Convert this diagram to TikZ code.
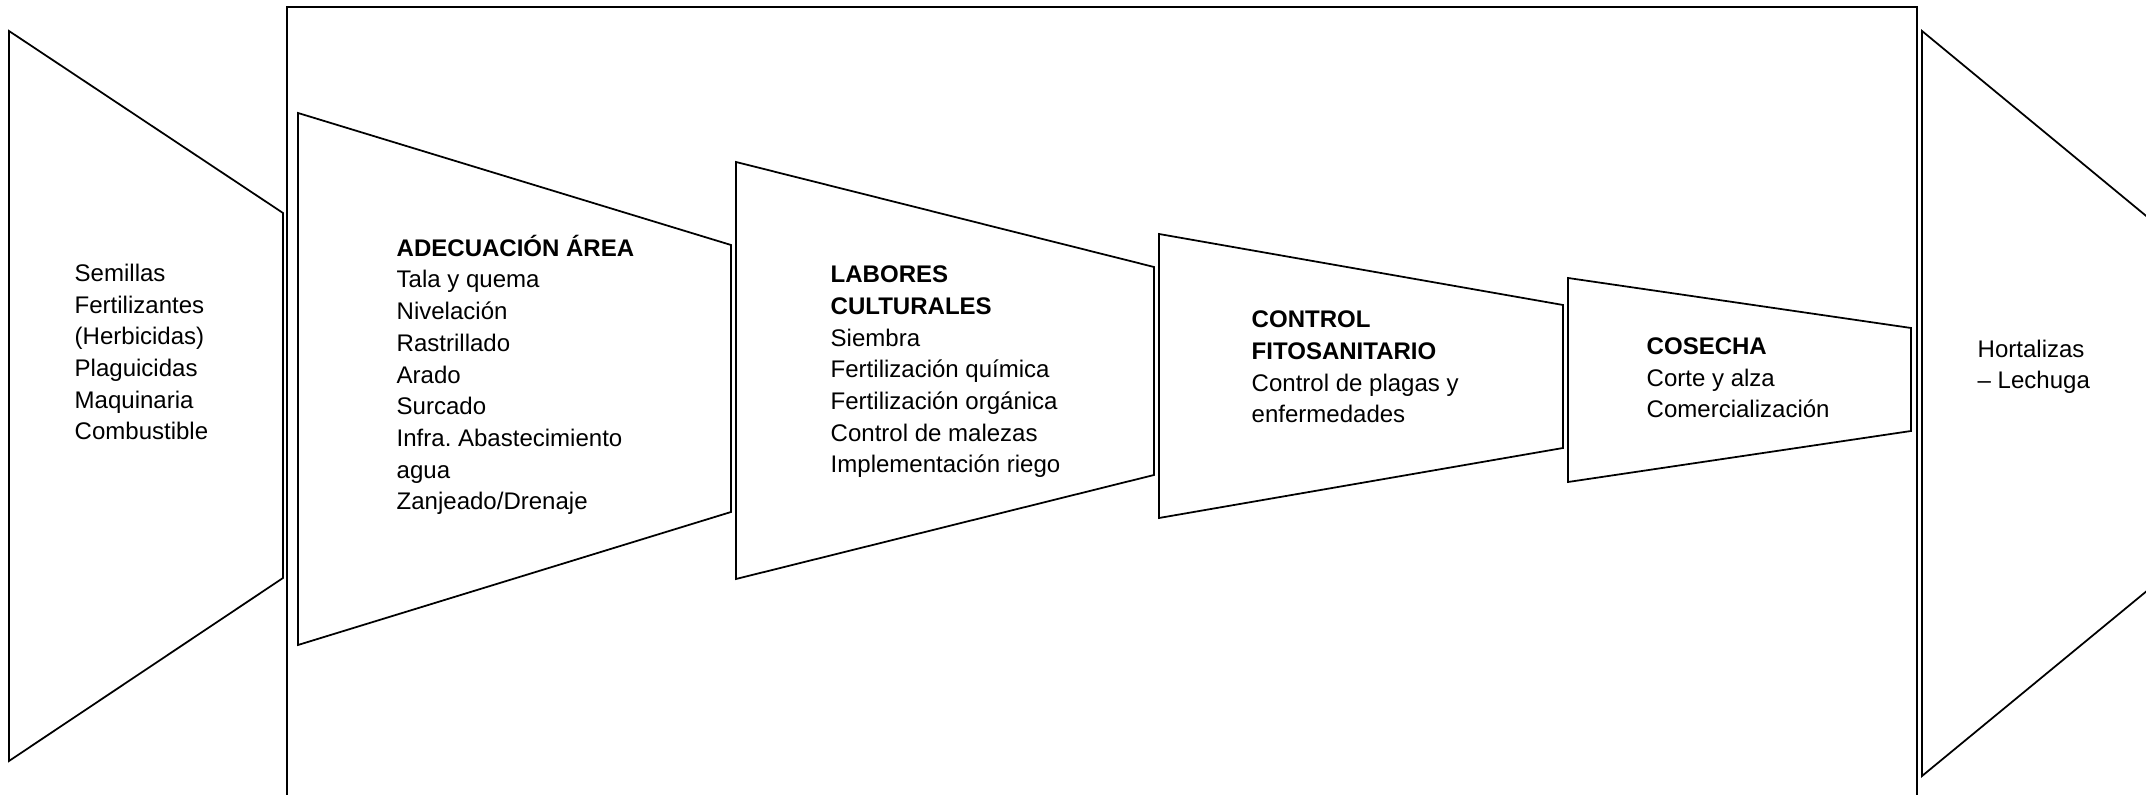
\documentclass[tikz,border=0pt]{standalone}
\usepackage{fontspec}
\setmainfont{Liberation Sans}
\frenchspacing
\begin{document}
\begin{tikzpicture}[x=0.01cm, y=-0.01cm,
    etapa/.style={draw=black, line width=0.5pt, line join=miter},
    texto/.style={anchor=base west, align=left, inner sep=0pt,
      font=\fontsize{6.83}{9.02}\selectfont}]
  \useasboundingbox (0,0) rectangle (2146,795);
  \clip (0,0) rectangle (2146,795);
  \draw[etapa] (287,7) rectangle (1917,830);
  \draw[etapa] (9,31) -- (283,213) -- (283,578) -- (9,761) -- cycle;
  \draw[etapa] (298,113) -- (731,245) -- (731,512) -- (298,645) -- cycle;
  \draw[etapa] (736,162) -- (1154,267) -- (1154,475) -- (736,579) -- cycle;
  \draw[etapa] (1159,234) -- (1563,305) -- (1563,448) -- (1159,518) -- cycle;
  \draw[etapa] (1568,278) -- (1911,328) -- (1911,431) -- (1568,482) -- cycle;
  \draw[etapa] (1922,31) -- (2374,404) -- (1922,776) -- cycle;
  \node[texto] (insumos) at (74,440) {Semillas\\Fertilizantes\\(Herbicidas)\\Plaguicidas\\Maquinaria\\Combustible};
  \node[texto] (adecuacion) at (396,510) {\textbf{ADECUACIÓN ÁREA}\\Tala y quema\\Nivelación\\Rastrillado\\Arado\\Surcado\\Infra. Abastecimiento\\agua\\Zanjeado/Drenaje};
  \node[texto] (labores) at (830,473) {\textbf{LABORES}\\\textbf{CULTURALES}\\Siembra\\Fertilización química\\Fertilización orgánica\\Control de malezas\\Implementación riego};
  \node[texto] (control) at (1251,423) {\textbf{CONTROL}\\\textbf{FITOSANITARIO}\\Control de plagas y\\enfermedades};
  \node[texto] (cosecha) at (1646,418) {\textbf{COSECHA}\\Corte y alza\\Comercialización};
  \node[texto] (productos) at (1977,389) {Hortalizas\\– Lechuga};
\end{tikzpicture}
\end{document}
